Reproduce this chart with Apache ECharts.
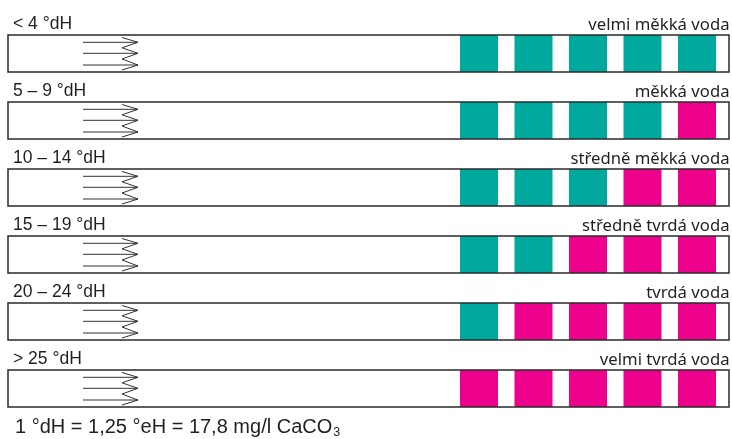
<!DOCTYPE html>
<html><head><meta charset="utf-8">
<script src="https://cdn.jsdelivr.net/npm/echarts@6/dist/echarts.min.js"></script>
<style>html,body{margin:0;padding:0;background:#fff}#c{width:732px;height:439px}</style>
</head><body><div id="c"></div>
<script>
// ---- data ----
const hardnessRanges = ['< 4 °dH', '5 – 9 °dH', '10 – 14 °dH', '15 – 19 °dH', '20 – 24 °dH', '> 25 °dH'];
const waterNames = ['velmi měkká voda', 'měkká voda', 'středně měkká voda', 'středně tvrdá voda', 'tvrdá voda', 'velmi tvrdá voda'];
const tealPadCounts = [5, 4, 3, 2, 1, 0];
const footnoteMain = '1 °dH = 1,25 °eH = 17,8 mg/l CaCO';
const footnoteSub = '3';

// ---- style / layout ----
const PAD_COUNT = 5;
const TEAL = '#00a99d', MAGENTA = '#ec008c';
const STRIP_LEN = 721;          // x units (1 unit = 1 px)
const STRIP_H = 37 / 67;        // y units
const PX = 1 / 67;              // one pixel in y units
const PAD_X0 = 452, PAD_STEP = 54.5, PAD_W = 38;

const stripData = hardnessRanges.map((r, k) => [k, tealPadCounts[k]]);

function renderStrip(params, api) {
  const k = api.value(0);
  const teal = api.value(1);
  const tl = api.coord([0, k]);
  const br = api.coord([STRIP_LEN, k + STRIP_H]);
  const w = br[0] - tl[0], h = br[1] - tl[1];
  const children = [];
  children.push({ type: 'rect', shape: { x: tl[0], y: tl[1], width: w, height: h }, style: { fill: '#fff' } });
  // pads
  for (let i = 0; i < PAD_COUNT; i++) {
    const p0 = api.coord([PAD_X0 + PAD_STEP * i, k]);
    const p1 = api.coord([PAD_X0 + PAD_STEP * i + PAD_W, k + STRIP_H]);
    children.push({ type: 'rect', shape: { x: p0[0], y: p0[1], width: p1[0] - p0[0], height: p1[1] - p0[1] },
      style: { fill: i < teal ? TEAL : MAGENTA } });
  }
  // arrow lines
  const lineY = [7.3, 18.3, 30];
  lineY.forEach(dy => {
    const a = api.coord([75, k + dy * PX]);
    const b = api.coord([130, k + dy * PX]);
    children.push({ type: 'line', shape: { x1: a[0], y1: a[1], x2: b[0], y2: b[1] }, style: { stroke: '#333', lineWidth: 1 } });
  });
  const zig = [[114, 2.5], [130, 7.3], [114, 12.8], [130, 18.3], [114, 24], [130, 30], [114, 35]];
  children.push({ type: 'polyline', shape: { points: zig.map(p => api.coord([p[0], k + p[1] * PX])) },
    style: { stroke: '#333', lineWidth: 1, fill: null } });
  // border
  children.push({ type: 'rect', shape: { x: tl[0], y: tl[1], width: w, height: h }, style: { fill: null, stroke: '#2a2a2a', lineWidth: 1.5 } });
  // labels
  children.push({ type: 'text', x: tl[0] + 5, y: tl[1] - 1.5, style: { text: hardnessRanges[k], fill: '#231f20',
    font: '17.5px "Liberation Sans", Arial, sans-serif', textAlign: 'left', textVerticalAlign: 'bottom' } });
  children.push({ type: 'text', x: br[0] + 0.5, y: tl[1] - 1.5, style: { text: waterNames[k], fill: '#231f20',
    font: '16.7px "Noto Sans", sans-serif', textAlign: 'right', textVerticalAlign: 'bottom' } });
  return { type: 'group', children };
}

const chart = echarts.init(document.getElementById('c'), null, { renderer: 'canvas' });
chart.setOption({
  animation: false,
  backgroundColor: '#fff',
  grid: { left: 8, right: 3, top: 35, bottom: 2 },
  xAxis: { type: 'value', min: 0, max: STRIP_LEN, show: false },
  yAxis: { type: 'value', min: 0, max: 6, inverse: true, show: false },
  series: [{ type: 'custom', renderItem: renderStrip, data: stripData, clip: false }],
  graphic: [{
    type: 'text', left: 15, top: 415,
    style: {
      text: '{a|' + footnoteMain + '}{s|' + footnoteSub + '}',
      rich: {
        a: { font: '20px "Liberation Sans", Arial, sans-serif', fill: '#231f20', lineHeight: 22, verticalAlign: 'top' },
        s: { font: '12.5px "Liberation Sans", Arial, sans-serif', fill: '#231f20', lineHeight: 22, verticalAlign: 'bottom', padding: [11, 0, 0, 1] }
      }
    }
  }]
});
</script></body></html>
